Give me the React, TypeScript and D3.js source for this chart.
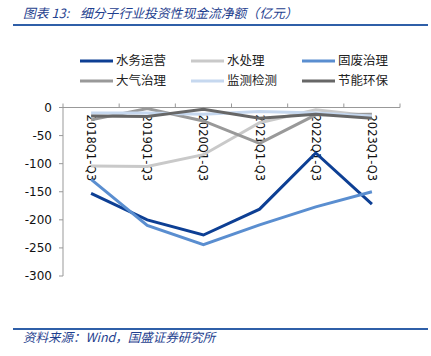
import React from "react";
import * as d3 from "d3";

const categories = ["2018Q1-Q3", "2019Q1-Q3", "2020Q1-Q3", "2021Q1-Q3", "2022Q1-Q3", "2023Q1-Q3"];
const seriesNames = ["水务运营", "水处理", "固废治理", "大气治理", "监测检测", "节能环保"];
const waterOps = [-153, -200, -227, -181, -81, -172];
const waterTreat = [-104, -105, -84, -27, -4, -15];
const solidWaste = [-128, -210, -244, -209, -177, -150];
const airTreat = [-22, -2, -24, -64, -13, -12];
const monitoring = [-10, -10, -12, -7, -10, -15];
const energySaving = [-15, -16, -3, -19, -12, -19];
const yTicks = [0, -50, -100, -150, -200, -250, -300];
const colors = ["#0d3f94", "#c9c9c9", "#5a8ed0", "#999999", "#c6d8ef", "#676767"];

const W = 431;
const H = 356;

export default function App() {
  const allSeries = [waterOps, waterTreat, solidWaste, airTreat, monitoring, energySaving];
  const x = d3.scaleBand<string>().domain(categories).range([63, 400]).padding(0);
  const y = d3.scaleLinear().domain([-300, 0]).range([276, 107.5]);
  const cx = (c: string) => (x(c) as number) + x.bandwidth() / 2;
  const line = d3
    .line<number>()
    .x((_, i) => cx(categories[i]))
    .y((d) => y(d));
  const titleColor = "#1f3f8f";
  const legendCols = [80, 191, 302];
  const legendRows = [61, 81];
  const cjk = "'Noto Sans CJK SC', sans-serif";
  const latin = "'DejaVu Sans', Verdana, sans-serif";
  return (
    <svg
      width={W}
      height={H}
      style={{ position: "absolute", left: 0, top: 0, background: "#fff" }}
    >
      <text y={18} fontSize={12.8} fontStyle="italic" fill={titleColor} fontFamily={cjk}>
        <tspan x={23}>图表 13:</tspan>
        <tspan x={80}>细分子行业投资性现金流净额（亿元）</tspan>
      </text>
      <line x1={13} x2={428} y1={25} y2={25} stroke="#2f5fa8" strokeWidth={2} />
      {seriesNames.map((name, i) => {
        const lx = legendCols[i % 3];
        const ly = legendRows[Math.floor(i / 3)];
        return (
          <g key={name}>
            <line x1={lx} x2={lx + 33} y1={ly} y2={ly} stroke={colors[i]} strokeWidth={3} />
            <text x={lx + 36} y={ly} dy="0.35em" fontSize={12.5} fontFamily={cjk} fill="#222">
              {name}
            </text>
          </g>
        );
      })}
      {/* y axis */}
      <line x1={63} x2={63} y1={y(0)} y2={y(-300)} stroke="#999" strokeWidth={1} />
      {yTicks.map((t) => (
        <g key={t}>
          <line x1={59} x2={63} y1={y(t)} y2={y(t)} stroke="#999" />
          <text x={52} y={y(t)} dy="0.35em" textAnchor="end" fontSize={12} fontFamily={latin} fill="#111">
            {t}
          </text>
        </g>
      ))}
      {/* x axis */}
      <line x1={63} x2={400} y1={y(0)} y2={y(0)} stroke="#999" />
      {[...categories.map((c) => x(c) as number), 400].map((v, i) => (
        <line key={i} x1={v} x2={v} y1={y(0) - 4} y2={y(0)} stroke="#999" />
      ))}
      {categories.map((c) => (
        <text
          key={c}
          transform={`translate(${cx(c)},${y(0) + 7}) rotate(90)`}
          dy="0.35em"
          fontSize={11.5}
          fontFamily={latin}
          fill="#111"
        >
          {c}
        </text>
      ))}
      {allSeries.map((s, i) => (
        <path key={i} d={line(s) || ""} fill="none" stroke={colors[i]} strokeWidth={3} strokeLinejoin="miter" />
      ))}
      <line x1={13} x2={428} y1={329} y2={329} stroke="#2f5fa8" strokeWidth={2} />
      <text x={23} y={342} fontSize={12.5} fontStyle="italic" fill={titleColor} fontFamily={cjk}>
        资料来源：Wind，国盛证券研究所
      </text>
    </svg>
  );
}
